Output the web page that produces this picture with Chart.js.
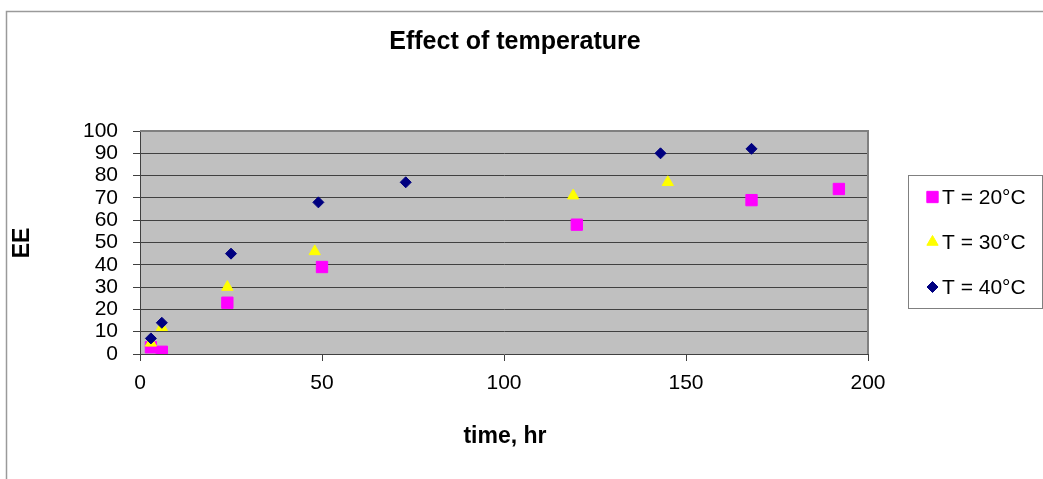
<!DOCTYPE html>
<html>
<head>
<meta charset="utf-8">
<script src="https://cdn.jsdelivr.net/npm/chart.js@4/dist/chart.umd.min.js"></script>
<style>
  html, body { margin: 0; padding: 0; background: #ffffff; }
  #wrap { position: relative; width: 1043px; height: 479px; }
  canvas { display: block; }
</style>
</head>
<body>
<div id="wrap"><canvas id="c" width="1043" height="479"></canvas></div>
<script>
// ---- data ----
const chartTitle = "Effect of temperature";
const xTitle = "time, hr";
const yTitle = "EE";
const seriesNames = ["T = 20°C", "T = 30°C", "T = 40°C"];

const time20 = [3, 6, 24, 50, 120, 168, 192];
const ee20   = [3, 1, 23, 39, 58, 69, 74];

const time30 = [3, 6, 24, 48, 119, 145];
const ee30   = [5, 12, 30, 46, 71, 77];

const time40 = [3, 6, 25, 49, 73, 143, 168];
const ee40   = [7, 14, 45, 68, 77, 90, 92];

const xTicks = [0, 50, 100, 150, 200];
const yTicks = [0, 10, 20, 30, 40, 50, 60, 70, 80, 90, 100];

// ---- build ----
const FONT = "'Liberation Sans', Arial, sans-serif";
const toPts = (xs, ys) => xs.map((x, i) => ({ x: x, y: ys[i] }));

const styles = [
  { color: '#FF00FF', pointStyle: 'rect', radius: 8, order: 3 },
  { color: '#FFFF00', pointStyle: 'triangle', radius: 6.5, order: 2 },
  { color: '#000080', pointStyle: 'rectRot', radius: 5.5, order: 1 }
];
const seriesData = [toPts(time20, ee20), toPts(time30, ee30), toPts(time40, ee40)];

const datasets = seriesNames.map((name, i) => ({
  label: name,
  data: seriesData[i],
  pointStyle: styles[i].pointStyle,
  pointRadius: styles[i].radius,
  pointHoverRadius: styles[i].radius,
  backgroundColor: styles[i].color,
  borderColor: styles[i].color,
  borderWidth: 1,
  showLine: false,
  order: styles[i].order
}));

function drawMarker(ctx, style, x, y) {
  ctx.save();
  ctx.fillStyle = style.color;
  ctx.strokeStyle = style.color;
  ctx.lineWidth = 1;
  ctx.beginPath();
  const r = style.radius;
  if (style.pointStyle === 'rect') {
    const s = r * Math.SQRT1_2;
    ctx.rect(x - s, y - s, 2 * s, 2 * s);
  } else if (style.pointStyle === 'triangle') {
    ctx.moveTo(x, y - r);
    ctx.lineTo(x + r * Math.cos(Math.PI / 6), y + r / 2);
    ctx.lineTo(x - r * Math.cos(Math.PI / 6), y + r / 2);
    ctx.closePath();
  } else {
    ctx.moveTo(x, y - r);
    ctx.lineTo(x + r, y);
    ctx.lineTo(x, y + r);
    ctx.lineTo(x - r, y);
    ctx.closePath();
  }
  ctx.fill();
  ctx.stroke();
  ctx.restore();
}

const decor = {
  id: 'decor',
  beforeDraw(chart) {
    const ctx = chart.ctx;
    const a = chart.chartArea;
    ctx.save();
    ctx.fillStyle = '#ffffff';
    ctx.fillRect(0, 0, chart.width, chart.height);
    // outer frame (left & top visible)
    ctx.strokeStyle = '#9a9a9a';
    ctx.lineWidth = 1.5;
    ctx.beginPath();
    ctx.moveTo(6.5, chart.height);
    ctx.lineTo(6.5, 11.5);
    ctx.lineTo(chart.width, 11.5);
    ctx.stroke();
    // plot area background
    ctx.fillStyle = '#C0C0C0';
    ctx.fillRect(a.left, a.top, a.right - a.left, a.bottom - a.top);
    ctx.restore();
  },
  beforeDatasetsDraw(chart) {
    const ctx = chart.ctx;
    const a = chart.chartArea;
    ctx.save();
    ctx.strokeStyle = '#808080';
    ctx.lineWidth = 2;
    ctx.beginPath();
    ctx.moveTo(a.left, a.top);
    ctx.lineTo(a.right, a.top);
    ctx.lineTo(a.right, a.bottom);
    ctx.stroke();
    ctx.restore();
  },
  afterDraw(chart) {
    const ctx = chart.ctx;
    ctx.save();
    ctx.fillStyle = '#000';
    ctx.textAlign = 'center';
    ctx.textBaseline = 'middle';
    ctx.font = 'bold 25px ' + FONT;
    ctx.fillText(chartTitle, 515, 42);
    ctx.font = 'bold 23px ' + FONT;
    ctx.fillText(xTitle, 505, 437);
    ctx.save();
    ctx.translate(23, 243);
    ctx.rotate(-Math.PI / 2);
    ctx.fillText(yTitle, 0, 0);
    ctx.restore();

    // legend
    const lx = 908.5, ly = 175.5, lw = 134, lh = 133;
    ctx.strokeStyle = '#808080';
    ctx.lineWidth = 1;
    ctx.strokeRect(lx, ly, lw, lh);
    const rows = [197, 242, 287];
    ctx.font = '21px ' + FONT;
    ctx.textAlign = 'left';
    seriesNames.forEach((name, i) => {
      drawMarker(ctx, styles[i], 932.5, rows[i]);
      ctx.fillStyle = '#000';
      ctx.fillText(name, 942, rows[i] + 1);
    });
    ctx.restore();
  }
};

new Chart(document.getElementById('c'), {
  type: 'scatter',
  data: { datasets: datasets },
  options: {
    responsive: false,
    animation: false,
    events: [],
    layout: { padding: { top: 131, right: 175, bottom: 0, left: 0 } },
    plugins: {
      legend: { display: false },
      title: { display: false },
      tooltip: { enabled: false }
    },
    scales: {
      x: {
        type: 'linear',
        position: 'bottom',
        min: 0, max: 200,
        afterBuildTicks: s => { s.ticks = xTicks.map(v => ({ value: v })); },
        ticks: { color: '#000', padding: 10, maxRotation: 0, autoSkip: false, font: { family: FONT, size: 21 } },
        grid: { drawOnChartArea: false, drawTicks: true, tickLength: 7, tickColor: '#404040' },
        border: { display: true, color: '#404040', width: 1 },
        afterFit: s => { s.height = 125; }
      },
      y: {
        type: 'linear',
        min: 0, max: 100,
        afterBuildTicks: s => { s.ticks = yTicks.map(v => ({ value: v })); },
        ticks: { color: '#000', padding: 15, autoSkip: false, font: { family: FONT, size: 21 } },
        grid: {
          drawTicks: true, tickLength: 7, tickColor: '#404040',
          color: c => (c.tick && (c.tick.value === 100 || c.tick.value === 0)) ? 'rgba(0,0,0,0)' : '#404040',
          lineWidth: 1
        },
        border: { display: true, color: '#404040', width: 1 },
        afterFit: s => { s.width = 140; }
      }
    }
  },
  plugins: [decor]
});
</script>
</body>
</html>
